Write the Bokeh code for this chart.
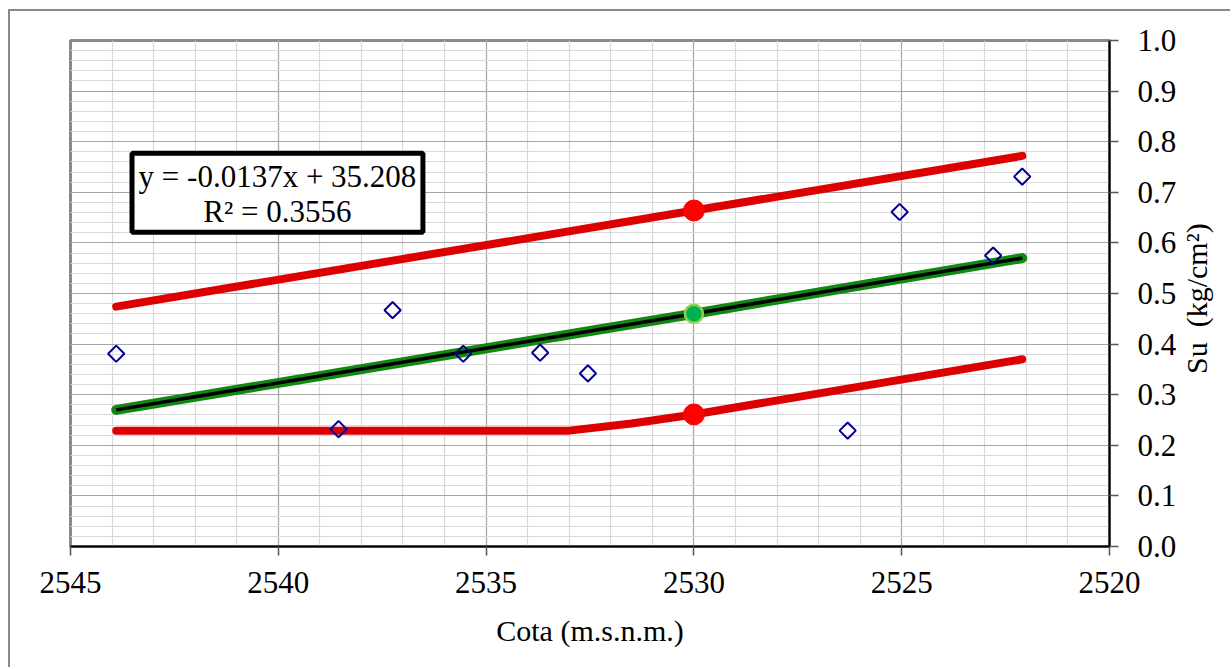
import math
from bokeh.plotting import figure
from bokeh.models import (Range1d, SingleIntervalTicker, PrintfTickFormatter,
                          BoxAnnotation, Label)
from bokeh.embed import file_html
from bokeh.resources import INLINE

# ---- data ----
cota = [2543.9, 2538.55, 2537.25, 2535.55, 2533.7, 2532.55, 2526.3, 2525.05, 2522.8, 2522.1]
su = [0.381, 0.232, 0.467, 0.381, 0.383, 0.342, 0.229, 0.661, 0.575, 0.731]

trend_x = [2543.9, 2530.0, 2522.1]
trend_y = [0.270, 0.460, 0.570]

upper_x = [2543.9, 2530.0, 2522.1]
upper_y = [0.474, 0.664, 0.772]

lower_x = [2543.9, 2533.0, 2531.5, 2530.0, 2522.1]
lower_y = [0.229, 0.229, 0.243, 0.261, 0.370]

mark_x = [2530.0, 2530.0]
mark_y = [0.664, 0.261]
mid_x = [2530.0]
mid_y = [0.460]

eq_text = "y = -0.0137x + 35.208"
r2_text = "R\u00b2 = 0.3556"
x_title = "Cota (m.s.n.m.)"
y_title = "Su\u00a0 (kg/cm\u00b2)"

FONT = "Liberation Serif"

p = figure(width=1222, height=658, output_backend="svg", toolbar_location=None,
           x_range=Range1d(2545, 2520), y_range=Range1d(0, 1.0),
           y_axis_location="right",
           min_border_left=60, min_border_top=29, min_border_right=122, min_border_bottom=123)
p.styles = {"border-left": "2px solid #8a8a8a", "border-top": "2px solid #8a8a8a",
            "margin-left": "8px", "margin-top": "9px"}

p.background_fill_color = "white"
p.border_fill_color = "white"
p.outline_line_color = "#8a8a8a"
p.outline_line_width = 3

xt = SingleIntervalTicker(interval=5, num_minor_ticks=5)
yt = SingleIntervalTicker(interval=0.1, num_minor_ticks=5)
p.xaxis.ticker = xt
p.yaxis.ticker = yt
p.xgrid.ticker = xt
p.ygrid.ticker = yt

for g in (p.xgrid, p.ygrid):
    g.grid_line_color = "#a6a6a6"
    g.grid_line_width = 1.2
    g.minor_grid_line_color = "#d9d9d9"
    g.minor_grid_line_width = 1.2

p.xaxis.formatter = PrintfTickFormatter(format="%d")
p.yaxis.formatter = PrintfTickFormatter(format="%.1f")

for ax in (p.xaxis, p.yaxis):
    ax.axis_line_color = "black"
    ax.axis_line_width = 2
    ax.major_tick_line_color = "#555555"
    ax.major_tick_line_width = 1.5
    ax.major_tick_out = 9
    ax.major_tick_in = 0
    ax.minor_tick_line_color = None
    ax.major_label_text_font = FONT
    ax.major_label_text_font_size = "31px"
    ax.major_label_text_color = "black"
    ax.axis_label_text_font = FONT
    ax.axis_label_text_font_size = "30px"
    ax.axis_label_text_font_style = "normal"
    ax.axis_label_text_color = "black"

p.xaxis.axis_label = x_title
p.xaxis.major_label_standoff = 16
p.xaxis.axis_label_standoff = 18
p.yaxis.major_label_standoff = 19

# y-axis title on the right, reading bottom-to-top; anchored at the axis start
# and pushed up to the middle with leading no-break spaces
yax = p.yaxis[0]
yax.axis_label = "\u00a0" * 23 + y_title
yax.axis_label_standoff = 17
yax.axis_label_align = "start"
if "axis_label_orientation" in yax.properties():
    yax.axis_label_orientation = math.pi / 2

# lines
p.line(upper_x, upper_y, line_color="#dd0000", line_width=8, line_cap="round", line_join="round")
p.line(lower_x, lower_y, line_color="#dd0000", line_width=8, line_cap="round", line_join="round")
p.line(trend_x, trend_y, line_color="#118811", line_width=10, line_cap="round")
p.line(trend_x, trend_y, line_color="black", line_width=3.5)

# markers
p.scatter(mark_x, mark_y, marker="circle", size=21, fill_color="#ff0000", line_color="#ff0000")
p.scatter(mid_x, mid_y, marker="circle", size=18, fill_color="#00b050", line_color="#92d050", line_width=2.5)

p.scatter(cota, su, marker="square", angle=math.pi / 4, size=11.5,
          fill_color=None, line_color="#000099", line_width=2)

# equation box
box = BoxAnnotation(left=2543.52, right=2536.52, top=0.777, bottom=0.621,
                    fill_color="white", fill_alpha=1.0, line_color="black",
                    line_alpha=1.0, line_width=5)
p.add_layout(box)
p.add_layout(Label(x=2540.02, y=0.731, text=eq_text, text_align="center", text_baseline="middle",
                   text_font=FONT, text_font_size="31px", text_color="black"))
p.add_layout(Label(x=2540.02, y=0.662, text=r2_text, text_align="center", text_baseline="middle",
                   text_font=FONT, text_font_size="31px", text_color="black"))

open("out.html", "w").write(file_html(p, INLINE))
